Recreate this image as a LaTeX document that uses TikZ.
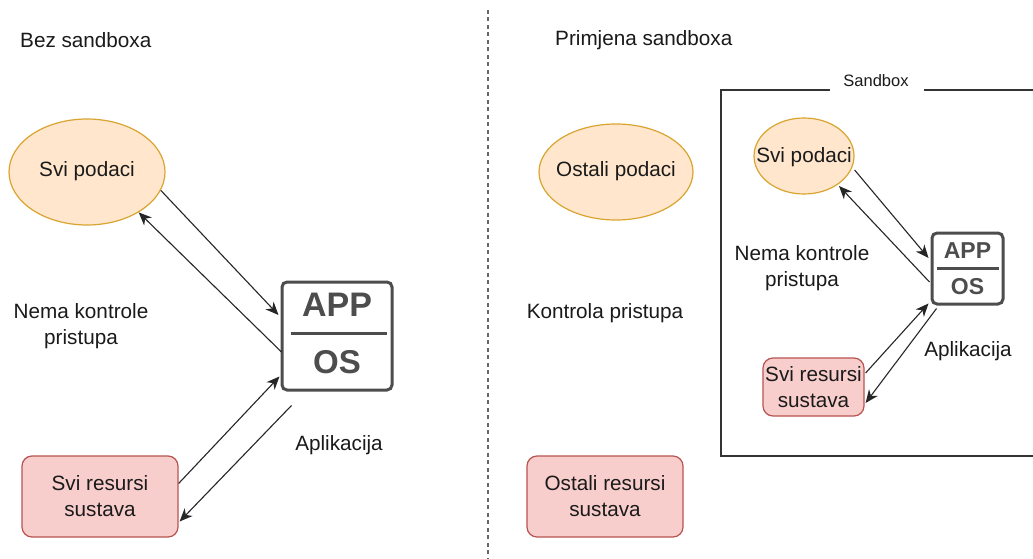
\documentclass[tikz,border=0pt]{standalone}
\usepackage{fontspec}
\setmainfont{Liberation Sans}
\usetikzlibrary{shapes.geometric,arrows.meta,calc}
\definecolor{txt}{HTML}{1A1A1A}
\definecolor{orfill}{HTML}{FFE6CC}
\definecolor{orline}{HTML}{D9A530}
\definecolor{rdfill}{HTML}{F8CECC}
\definecolor{rdline}{HTML}{B85450}
\definecolor{appline}{HTML}{4D4D4D}
\begin{document}
\begin{tikzpicture}[x=1pt,y=-1pt,
  lbl/.style={text=txt,font=\fontsize{20.7}{26}\selectfont,align=center,inner sep=0pt},
  datael/.style={ellipse,draw=orline,fill=orfill,line width=1.2pt,inner sep=0pt},
  resbox/.style={draw=rdline,fill=rdfill,line width=1.2pt,rounded corners=10pt,inner sep=0pt,align=center,text=txt,font=\fontsize{20.7}{26}\selectfont},
  appbox/.style={draw=appline,line width=3pt,rounded corners=5pt,inner sep=0pt,fill=white},
  apptxt/.style={text=appline,inner sep=0pt,font=\bfseries},
  conn/.style={draw=black!85,line width=1.1pt,-{Stealth[length=13pt,width=11pt,inset=4pt]}}
]
\useasboundingbox (0,0) rectangle (1033,559);
\fill[white] (0,0) rectangle (1033,559);

% divider
\coordinate (dtop) at (488,10);
\coordinate (dbot) at (488,559);
\draw[gray!80!black,line width=1.2pt,dash pattern=on 4pt off 3.5pt] (dtop) -- (dbot);

% titles
\node[lbl,anchor=west] (t1) at (20,40) {Bez sandboxa};
\node[lbl,anchor=west] (t2) at (555,40) {Primjena sandboxa};

% left side
\node[datael,minimum width=156pt,minimum height=106pt] (lsp) at (87,172) {};
\node[lbl] (lspt) at (87,171) {Svi podaci};
\node[lbl] (lnk) at (81,326) {Nema kontrole\\pristupa};
\node[resbox,minimum width=156pt,minimum height=81pt] (lres) at (100,496.5) {Svi resursi\\sustava};
\node[lbl] (lapl) at (339,445) {Aplikacija};
\node[appbox,minimum width=110pt,minimum height=108pt] (lapp) at (337,336) {};
\node[apptxt,font=\bfseries\fontsize{34}{34}\selectfont] (lappt) at (337,305) {APP};
\node[apptxt,font=\bfseries\fontsize{33}{33}\selectfont] (lost) at (337,362) {OS};
\draw[appline,line width=3pt] ($(lapp.west)+(10,-3)$) coordinate (lsl) -- ($(lapp.east)+(-7,-3)$) coordinate (lsr);

\draw[conn] (lsp.-14) -- ($(lapp.west)+(-2,-21)$);
\draw[conn] ($(lapp.west)+(1,16)$) -- (lsp.-38);
\draw[conn] ($(lres.east)+(0,-13)$) -- ($(lapp.south west)+(-1,-15)$);
\draw[conn] ($(lapp.south west)+(11,14)$) -- ($(lres.east)+(1,25)$);

% right side
\node[datael,minimum width=154pt,minimum height=96pt] (rop) at (616,172) {};
\node[lbl] (ropt) at (616,171) {Ostali podaci};
\node[lbl] (rkp) at (605,313) {Kontrola pristupa};
\node[resbox,minimum width=156pt,minimum height=81pt] (rres) at (605,496.5) {Ostali resursi\\sustava};

% sandbox frame
\node[text=txt,inner sep=0pt,font=\fontsize{16.5}{16.5}\selectfont] (sbl) at (876,81) {Sandbox};
\draw[black!80,line width=1.5pt] ($(sbl.west)+(-13,9)$) -- (721,90) -- (721,456) -- (1040,456);
\draw[black!80,line width=1.5pt] ($(sbl.east)+(15,9)$) -- (1040,90);

\node[datael,minimum width=100pt,minimum height=76pt] (isp) at (804,156) {};
\node[lbl] (ispt) at (804,157) {Svi podaci};
\node[lbl] (ink) at (802,268) {Nema kontrole\\pristupa};
\node[resbox,minimum width=101pt,minimum height=58pt] (ires) at (813.5,387) {Svi resursi\\sustava};
\node[lbl] (iapl) at (968,351) {Aplikacija};
\node[appbox,minimum width=71pt,minimum height=71pt] (iapp) at (967.5,268.5) {};
\node[apptxt,font=\bfseries\fontsize{23}{23}\selectfont] (iappt) at (967.5,251) {APP};
\node[apptxt,font=\bfseries\fontsize{23}{23}\selectfont] (iost) at (967.5,287) {OS};
\draw[appline,line width=2.5pt] ($(iapp.west)+(6,0)$) coordinate (isl) -- ($(iapp.east)+(-6,0)$) coordinate (isr);

\draw[conn] ($(isp.east)+(0,14)$) -- ($(iapp.west)+(-2,-10.5)$);
\draw[conn] ($(iapp.west)+(-1,13.5)$) -- ($(isp.center)+(35,30)$);
\draw[conn] ($(ires.east)+(1,-14)$) -- ($(iapp.south west)+(-2,-2)$);
\draw[conn] ($(iapp.south west)+(6,3)$) -- ($(ires.east)+(1,16)$);
\end{tikzpicture}
\end{document}
